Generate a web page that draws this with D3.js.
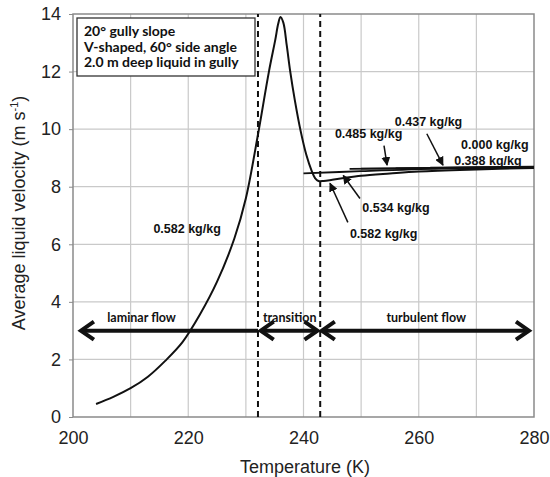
<!DOCTYPE html>
<html>
<head>
<meta charset="utf-8">
<script src="https://cdn.jsdelivr.net/npm/d3@7"></script>
<style>
  body { margin: 0; background: #fff; }
  svg { display: block; }
</style>
</head>
<body>
<svg width="550" height="477"></svg>
<script>
// axis ticks
var xTicks = [200, 220, 240, 260, 280];
var yTicks = [0, 2, 4, 6, 8, 10, 12, 14];

// 0.582 kg/kg full curve (T in K, velocity in m/s)
var curve582 = [
  [204, 0.45], [207, 0.7], [210, 1.0], [213, 1.4], [216, 1.95], [219, 2.6],
  [222, 3.55], [225, 4.7], [228, 6.2], [230, 7.6], [232, 9.7],
  [234, 12.0], [235.1, 13.1], [235.6, 13.65], [236, 13.9], [236.5, 13.7],
  [237.1, 12.9], [237.7, 12.0], [238.5, 11.0], [239.5, 9.94], [240.5, 9.1],
  [241.4, 8.56], [242, 8.3], [242.6, 8.2], [243.5, 8.2], [245, 8.24],
  [247, 8.3], [250, 8.38], [255, 8.46], [260, 8.53], [270, 8.6], [280, 8.65]
];
// other liquid fractions, only in turbulent regime
var curve534 = [[240, 8.46], [250, 8.54], [264, 8.63], [280, 8.67]];
var curve485 = [[248, 8.62], [264, 8.65], [280, 8.67]];
var curve437 = [[250, 8.63], [280, 8.68]];
var curve388 = [[256, 8.64], [280, 8.69]];
var curve000 = [[262, 8.66], [280, 8.7]];

// flow regime boundaries
var regimeBounds = [232.1, 242.9];

// annotation labels: text, T, v (centre)
var labels = [
  ["0.582 kg/kg", 219.8, 6.55],
  ["0.485 kg/kg", 251.3, 9.84],
  ["0.437 kg/kg", 261.7, 10.26],
  ["0.000 kg/kg", 273.2, 9.46],
  ["0.388 kg/kg", 272.0, 8.91],
  ["0.534 kg/kg", 256.05, 7.28],
  ["0.582 kg/kg", 253.9, 6.38]
];
// annotation arrows: from [T,v] to [T,v]
var pointers = [
  [[253.97, 9.43], [254.5, 8.75]],
  [[261.4, 9.84], [264.2, 8.75]],
  [[249.8, 7.59], [246.9, 8.39]],
  [[247.7, 6.76], [244.6, 8.12]]
];
// regime arrows: label, start T, end T, label T, double-headed
var regimes = [
  ["laminar flow", 201.2, 232.1, 211.9, false],
  ["transition", 232.4, 242.6, 237.6, true],
  ["turbulent flow", 243.0, 279.3, 261.3, true]
];
var regimeV = 3.0;

var infoLines = ["20° gully slope", "V-shaped, 60° side angle", "2.0 m deep liquid in gully"];

var svg = d3.select("svg");
var x = d3.scaleLinear().domain([200, 280]).range([73, 534]);
var y = d3.scaleLinear().domain([0, 14]).range([417, 14]);

// grid
var grid = svg.append("g");
grid.selectAll("line.v").data(d3.range(210, 280, 10)).enter().append("line")
  .attr("x1", d => x(d)).attr("x2", d => x(d))
  .attr("y1", y(0)).attr("y2", y(14))
  .attr("stroke", "#c9c9c9").attr("stroke-width", 1.2);
grid.selectAll("line.h").data(d3.range(2, 14, 2)).enter().append("line")
  .attr("x1", x(200)).attr("x2", x(280))
  .attr("y1", d => y(d)).attr("y2", d => y(d))
  .attr("stroke", "#c9c9c9").attr("stroke-width", 1.2);

// frame
svg.append("rect")
  .attr("x", x(200)).attr("y", y(14))
  .attr("width", x(280) - x(200)).attr("height", y(0) - y(14))
  .attr("fill", "none").attr("stroke", "#8a8a8a").attr("stroke-width", 1.5);

// axes
var xAxis = svg.append("g").attr("transform", "translate(0," + y(0) + ")")
  .call(d3.axisBottom(x).tickValues(xTicks).tickSize(0).tickPadding(14));
var yAxis = svg.append("g").attr("transform", "translate(" + x(200) + ",0)")
  .call(d3.axisLeft(y).tickValues(yTicks).tickSize(4).tickPadding(8));
[xAxis, yAxis].forEach(function(a) {
  a.select(".domain").remove();
  a.selectAll("line").attr("stroke", "#8a8a8a");
  a.selectAll("text").attr("font-family", "Liberation Sans, Arial, sans-serif")
    .attr("font-size", 18).attr("fill", "#222");
});

svg.append("text")
  .attr("x", 305).attr("y", 473)
  .attr("text-anchor", "middle")
  .attr("font-family", "Liberation Sans, Arial, sans-serif").attr("font-size", 18).attr("fill", "#222")
  .text("Temperature (K)");

var yt = svg.append("text")
  .attr("transform", "translate(25,213) rotate(-90)")
  .attr("text-anchor", "middle")
  .attr("font-family", "Liberation Sans, Arial, sans-serif").attr("font-size", 18).attr("fill", "#222");
yt.append("tspan").text("Average liquid velocity (m s");
yt.append("tspan").attr("dy", -7).attr("font-size", 11).text("-1");
yt.append("tspan").attr("dy", 7).text(")");

// regime boundaries
svg.selectAll("line.bound").data(regimeBounds).enter().append("line")
  .attr("x1", d => x(d)).attr("x2", d => x(d))
  .attr("y1", y(0)).attr("y2", y(14))
  .attr("stroke", "#111").attr("stroke-width", 2).attr("stroke-dasharray", "6,4");

// curves
var line = d3.line().x(d => x(d[0])).y(d => y(d[1])).curve(d3.curveCatmullRom.alpha(0.5));
svg.append("path").datum(curve582).attr("d", line)
  .attr("fill", "none").attr("stroke", "#111").attr("stroke-width", 2);
[curve534, curve485, curve437, curve388, curve000].forEach(function(c) {
  svg.append("path").datum(c).attr("d", line)
    .attr("fill", "none").attr("stroke", "#111").attr("stroke-width", 1.8);
});

// info box
var box = svg.append("g");
box.append("rect").attr("x", 77).attr("y", 18).attr("width", 178).attr("height", 58)
  .attr("fill", "#fff").attr("stroke", "#333").attr("stroke-width", 1.3);
box.selectAll("text").data(infoLines).enter().append("text")
  .attr("x", 84).attr("y", (d, i) => 36 + i * 15.5)
  .attr("font-family", "Lato, sans-serif").attr("font-weight", "bold")
  .attr("font-size", 14).attr("fill", "#111")
  .text(d => d);

// arrow marker
svg.append("defs").append("marker")
  .attr("id", "tip").attr("viewBox", "0 0 10 10").attr("refX", 9).attr("refY", 5)
  .attr("markerWidth", 6).attr("markerHeight", 6).attr("orient", "auto")
  .append("path").attr("d", "M0,0 L10,5 L0,10 Z").attr("fill", "#111");

svg.selectAll("line.ptr").data(pointers).enter().append("line")
  .attr("x1", d => x(d[0][0])).attr("y1", d => y(d[0][1]))
  .attr("x2", d => x(d[1][0])).attr("y2", d => y(d[1][1]))
  .attr("stroke", "#111").attr("stroke-width", 1.5).attr("marker-end", "url(#tip)");

svg.selectAll("text.lab").data(labels).enter().append("text")
  .attr("x", d => x(d[1])).attr("y", d => y(d[2]) + 4.5)
  .attr("text-anchor", "middle")
  .attr("font-family", "Liberation Sans, Arial, sans-serif").attr("font-weight", "bold")
  .attr("font-size", 12.5).attr("fill", "#111")
  .text(d => d[0]);

// regime arrows
function chevron(g, px, py, dir) {
  g.append("path")
    .attr("d", "M" + (px + dir * 13) + "," + (py - 9) + " L" + px + "," + py + " L" + (px + dir * 13) + "," + (py + 9))
    .attr("fill", "none").attr("stroke", "#111").attr("stroke-width", 4)
    .attr("stroke-linejoin", "miter").attr("stroke-linecap", "butt");
}
regimes.forEach(function(r) {
  var g = svg.append("g");
  var x0 = x(r[1]), x1 = x(r[2]), py = y(regimeV);
  g.append("line").attr("x1", x0 + 2).attr("x2", r[4] ? x1 - 2 : x1).attr("y1", py).attr("y2", py)
    .attr("stroke", "#111").attr("stroke-width", 4);
  chevron(g, x0 + 1, py, 1);
  if (r[4]) chevron(g, x1 - 1, py, -1);
  g.append("text").attr("x", x(r[3])).attr("y", py - 9)
    .attr("text-anchor", "middle")
    .attr("font-family", "Lato, sans-serif").attr("font-weight", "bold")
    .attr("font-size", 12.5).attr("fill", "#111")
    .text(r[0]);
});
</script>
</body>
</html>
